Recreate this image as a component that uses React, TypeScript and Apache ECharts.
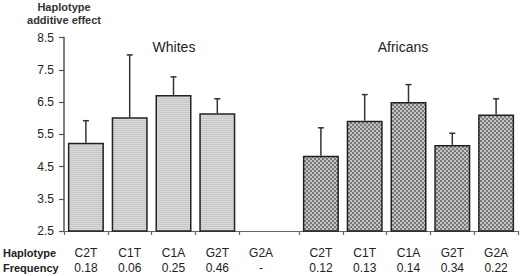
import React, { useEffect, useRef } from "react";
import * as echarts from "echarts";

// ---- data ----
const whitesCategories = ["C2T", "C1T", "C1A", "G2T", "G2A"];
const whitesFrequency = ["0.18", "0.06", "0.25", "0.46", "-"];
const whitesEffect: (number | null)[] = [5.24, 6.03, 6.72, 6.15, null];
const whitesUpper: (number | null)[] = [5.92, 7.96, 7.28, 6.6, null];

const africansCategories = ["C2T", "C1T", "C1A", "G2T", "G2A"];
const africansFrequency = ["0.12", "0.13", "0.14", "0.34", "0.22"];
const africansEffect: (number | null)[] = [4.83, 5.92, 6.5, 5.17, 6.11];
const africansUpper: (number | null)[] = [5.7, 6.73, 7.04, 5.53, 6.6];

const yTicks = [2.5, 3.5, 4.5, 5.5, 6.5, 7.5, 8.5];
const groupNames = ["Whites", "Africans"];
const rowHeaders = ["Haplotype", "Frequency"];

// ---- layout helpers (category slots on a linear scale) ----
const GROUP_GAP = 0.365;
const whitesPos = whitesCategories.map((_, i) => i + 0.5);
const africansPos = africansCategories.map(
  (_, i) => whitesCategories.length + GROUP_GAP + i + 0.5
);
const xMax = whitesCategories.length + GROUP_GAP + africansCategories.length;
const boundaries = [
  ...whitesCategories.map((_, i) => i),
  ...africansCategories.map((_, i) => whitesCategories.length + GROUP_GAP + i),
  xMax,
];
const allPos = [...whitesPos, ...africansPos];
const allLabels = [
  ...whitesCategories.map((c, i) => `${c}\n${whitesFrequency[i]}`),
  ...africansCategories.map((c, i) => `${c}\n${africansFrequency[i]}`),
];

const FONT = "Arial, 'Liberation Sans', Helvetica, sans-serif";

function makePattern(kind: "lines" | "checker") {
  const c = document.createElement("canvas");
  c.width = 4;
  c.height = 4;
  const ctx = c.getContext("2d")!;
  if (kind === "lines") {
    for (let y = 0; y < 4; y++) {
      ctx.fillStyle = y % 2 === 0 ? "#c6c6c6" : "#dadada";
      ctx.fillRect(0, y, 4, 1);
    }
  } else {
    for (let y = 0; y < 4; y += 2) {
      for (let x = 0; x < 4; x += 2) {
        ctx.fillStyle = (x + y) % 4 === 0 ? "#787878" : "#c4c4c4";
        ctx.fillRect(x, y, 2, 2);
      }
    }
  }
  return { image: c, repeat: "repeat", imageWidth: 4, imageHeight: 4 } as any;
}

export default function App() {
  const ref = useRef<HTMLDivElement>(null);
  useEffect(() => {
    document.body.style.margin = "0";
    if (!ref.current) return;
    const chart = echarts.init(ref.current, undefined, { renderer: "svg" });

    const whitesBars = whitesPos
      .map((x, i) => (whitesEffect[i] == null ? null : [x, whitesEffect[i]]))
      .filter((d) => d !== null);
    const africansBars = africansPos
      .map((x, i) => (africansEffect[i] == null ? null : [x, africansEffect[i]]))
      .filter((d) => d !== null);
    const errData = [
      ...whitesPos.map((x, i) => [x, whitesEffect[i], whitesUpper[i]]),
      ...africansPos.map((x, i) => [x, africansEffect[i], africansUpper[i]]),
    ].filter((d) => d[1] != null && d[2] != null);

    const option: any = {
      animation: false,
      backgroundColor: "#ffffff",
      grid: { left: 64, right: 2, top: 37.5, bottom: 45, containLabel: false },
      xAxis: {
        type: "value",
        min: 0,
        max: xMax,
        splitLine: { show: false },
        axisLine: { show: true, onZero: false, lineStyle: { color: "#666", width: 1.2 } },
        axisTick: {
          show: true,
          customValues: boundaries,
          length: 4,
          inside: false,
          lineStyle: { color: "#666", width: 1.2 },
        },
        axisLabel: {
          customValues: allPos,
          margin: 14,
          fontFamily: FONT,
          fontSize: 12,
          lineHeight: 15,
          color: "#222",
          formatter: (v: number) => {
            const idx = allPos.findIndex((p) => Math.abs(p - v) < 1e-6);
            return idx >= 0 ? allLabels[idx] : "";
          },
        },
      },
      yAxis: {
        type: "value",
        min: 2.5,
        max: 8.5,
        name: "Haplotype\nadditive effect",
        nameLocation: "end",
        nameGap: 11,
        nameTextStyle: {
          fontFamily: FONT,
          fontSize: 11,
          fontWeight: "bold",
          color: "#333",
          align: "center",
          lineHeight: 13,
        },
        splitLine: { show: false },
        axisLine: { show: true, lineStyle: { color: "#555", width: 1.5 } },
        axisTick: {
          show: true,
          customValues: yTicks,
          length: 5,
          lineStyle: { color: "#555", width: 1.2 },
        },
        axisLabel: {
          customValues: yTicks,
          formatter: (v: number) => v.toFixed(1),
          margin: 10,
          fontFamily: FONT,
          fontSize: 12,
          color: "#222",
        },
      },
      series: [
        {
          name: groupNames[0],
          type: "bar",
          data: whitesBars,
          barWidth: 36,
          barGap: "-100%",
          itemStyle: {
            color: makePattern("lines"),
            borderColor: "#222",
            borderWidth: 1.5,
          },
        },
        {
          name: groupNames[1],
          type: "bar",
          data: africansBars,
          barWidth: 36,
          barGap: "-100%",
          itemStyle: {
            color: makePattern("checker"),
            borderColor: "#222",
            borderWidth: 1.5,
          },
        },
        {
          type: "custom",
          data: errData,
          encode: { x: 0, y: [1, 2] },
          z: 5,
          renderItem: (_p: any, api: any) => {
            const x = api.value(0);
            const base = api.coord([x, api.value(1)]);
            const top = api.coord([x, api.value(2)]);
            return {
              type: "group",
              children: [
                {
                  type: "line",
                  shape: { x1: base[0], y1: base[1], x2: top[0], y2: top[1] },
                  style: { stroke: "#333", lineWidth: 1.5 },
                },
                {
                  type: "line",
                  shape: { x1: top[0] - 3, y1: top[1], x2: top[0] + 3, y2: top[1] },
                  style: { stroke: "#333", lineWidth: 1.5 },
                },
              ],
            };
          },
        },
      ],
      graphic: [
        {
          type: "text",
          x: 174,
          y: 47,
          style: {
            text: groupNames[0],
            fontFamily: FONT,
            fontSize: 14,
            fill: "#222",
            align: "center",
            verticalAlign: "middle",
          },
        },
        {
          type: "text",
          x: 403,
          y: 47,
          style: {
            text: groupNames[1],
            fontFamily: FONT,
            fontSize: 14,
            fill: "#222",
            align: "center",
            verticalAlign: "middle",
          },
        },
        ...rowHeaders.map((t, i) => ({
          type: "text",
          x: 3,
          y: 253 + i * 15,
          style: {
            text: t,
            fontFamily: FONT,
            fontSize: 11,
            fontWeight: "bold",
            fill: "#222",
            align: "left",
            verticalAlign: "middle",
          },
        })),
      ],
    };
    chart.setOption(option);
    return () => chart.dispose();
  }, []);
  return <div ref={ref} style={{ width: 520, height: 276 }} />;
}
